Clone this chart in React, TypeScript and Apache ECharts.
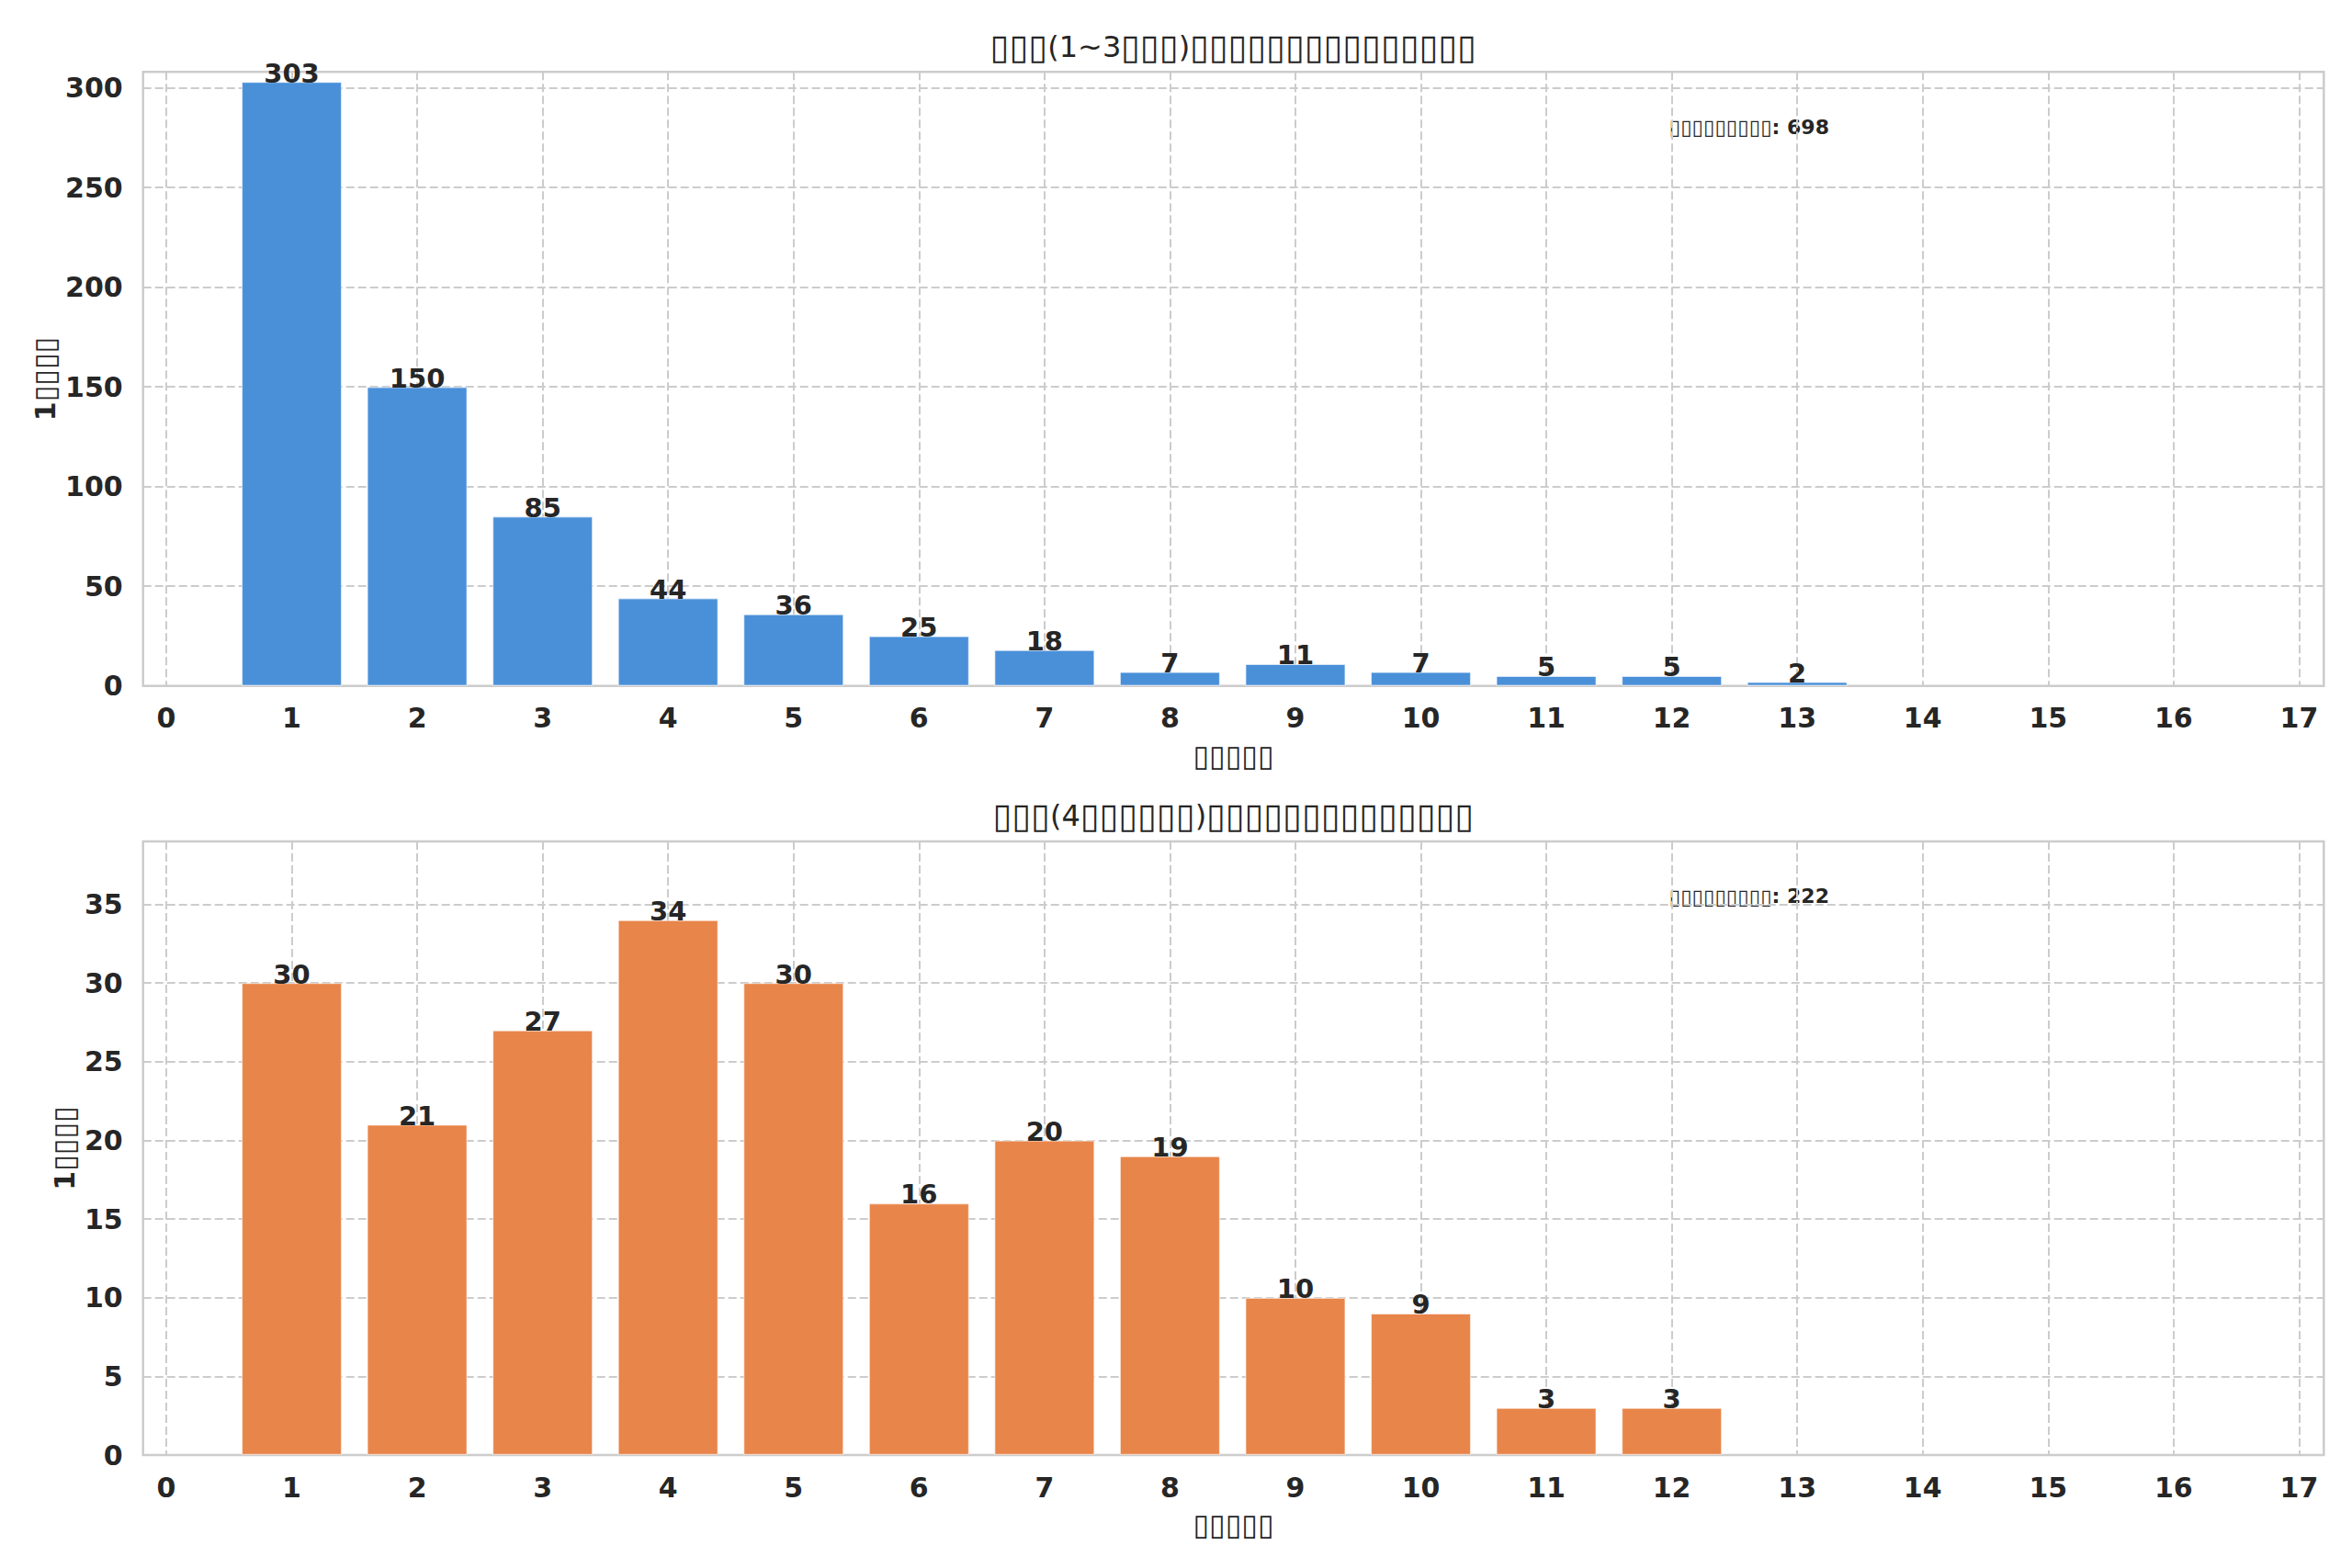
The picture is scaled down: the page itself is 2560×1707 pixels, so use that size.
import React, { useEffect, useRef } from 'react';
import * as echarts from 'echarts';

const xTicks = [0, 1, 2, 3, 4, 5, 6, 7, 8, 9, 10, 11, 12, 13, 14, 15, 16, 17];
const topCategories = [1, 2, 3, 4, 5, 6, 7, 8, 9, 10, 11, 12, 13];
const topValues = [303, 150, 85, 44, 36, 25, 18, 7, 11, 7, 5, 5, 2];
const bottomCategories = [1, 2, 3, 4, 5, 6, 7, 8, 9, 10, 11, 12];
const bottomValues = [30, 21, 27, 34, 30, 16, 20, 19, 10, 9, 3, 3];
const topYTicks = [0, 50, 100, 150, 200, 250, 300];
const bottomYTicks = [0, 5, 10, 15, 20, 25, 30, 35];
const topYMax = 308;
const bottomYMax = 39;

const topTitle = '▯▯▯(1~3▯▯▯)▯▯▯▯▯▯▯▯▯▯▯▯▯▯▯';
const bottomTitle = '▯▯▯(4▯▯▯▯▯▯)▯▯▯▯▯▯▯▯▯▯▯▯▯▯';
const xLabel = '▯▯▯▯▯';
const yLabel = '1▯▯▯▯';
const totalLabel = '▯▯▯▯▯▯▯▯▯';
const topTotal = 698;
const bottomTotal = 222;

const FONT = '"DejaVu Sans", sans-serif';
const TEXT = '#262626';
const GRIDLINE = '#cccccc';

const W = 2560;
const H = 1707;
const LEFT = 155.7;
const RIGHT_EDGE = 2529.3;
const PLOT_W = RIGHT_EDGE - LEFT;
const TOP1 = 78.3;
const BOT1 = 746.7;
const TOP2 = 916;
const BOT2 = 1584;
const CX = (LEFT + RIGHT_EDGE) / 2;

// wrap runs of box glyphs and of other characters into rich-text segments
const richify = (s: string) =>
  s.replace(/(▯+)|([^▯]+)/g, (_m, box, other) => (box ? `{b|${box}}` : `{n|${other}}`));

export default function App() {
  const ref = useRef<HTMLDivElement>(null);
  useEffect(() => {
    if (!ref.current) return;
    const chart = echarts.init(ref.current, undefined, { renderer: 'svg' });

    const mkX = (gi: number) => ({
      type: 'value',
      gridIndex: gi,
      min: -0.185,
      max: 17.197,
      axisLine: { show: false },
      axisTick: { show: false, customValues: xTicks },
      axisLabel: {
        customValues: xTicks,
        fontSize: 30,
        fontWeight: 'bold',
        color: TEXT,
        fontFamily: FONT,
        margin: 20,
      },
      splitLine: { show: true, lineStyle: { color: GRIDLINE, width: 2, type: [9, 4] } },
    });
    const mkY = (gi: number, max: number, ticks: number[]) => ({
      type: 'value',
      gridIndex: gi,
      min: 0,
      max,
      axisLine: { show: false },
      axisTick: { show: false, customValues: ticks },
      axisLabel: {
        customValues: ticks,
        fontSize: 30,
        fontWeight: 'bold',
        color: TEXT,
        fontFamily: FONT,
        margin: 22,
      },
      splitLine: { show: true, lineStyle: { color: GRIDLINE, width: 2, type: [9, 4] } },
    });
    const mkBar = (gi: number, cats: number[], vals: number[], color: string) => ({
      type: 'bar',
      xAxisIndex: gi,
      yAxisIndex: gi,
      data: cats.map((c, i) => [c, vals[i]]),
      barWidth: '80%',
      itemStyle: { color, borderColor: 'rgba(255,255,255,0.55)', borderWidth: 1.2 },
      label: {
        show: true,
        position: 'top',
        distance: -5,
        fontSize: 29,
        fontWeight: 'bold',
        color: TEXT,
        fontFamily: FONT,
        formatter: (p: any) => String(p.value[1]),
      },
    });
    const txt = (
      text: string,
      x: number,
      y: number,
      nSize: number,
      nWeight: string,
      bSize: number,
      align = 'center',
      rotation = 0,
    ) => ({
      type: 'text',
      x,
      y,
      rotation,
      style: {
        text: richify(text),
        fontFamily: FONT,
        fill: TEXT,
        align,
        verticalAlign: 'middle',
        rich: {
          n: { fontSize: nSize, fontWeight: nWeight, fontFamily: FONT, fill: TEXT, color: TEXT },
          b: { fontSize: bSize, fontWeight: 'normal', fontFamily: FONT, fill: TEXT, color: TEXT },
        },
      },
    });

    chart.setOption({
      animation: false,
      backgroundColor: '#ffffff',
      grid: [
        { left: LEFT, top: TOP1, width: PLOT_W, height: BOT1 - TOP1, show: true, borderColor: GRIDLINE, borderWidth: 2.5, backgroundColor: 'transparent' },
        { left: LEFT, top: TOP2, width: PLOT_W, height: BOT2 - TOP2, show: true, borderColor: GRIDLINE, borderWidth: 2.5, backgroundColor: 'transparent' },
      ],
      xAxis: [mkX(0), mkX(1)],
      yAxis: [mkY(0, topYMax, topYTicks), mkY(1, bottomYMax, bottomYTicks)],
      series: [
        mkBar(0, topCategories, topValues, '#4a90d9'),
        mkBar(1, bottomCategories, bottomValues, '#e8854a'),
      ],
      graphic: [
        txt(topTitle, CX, 50.5, 32, 'normal', 37.8),
        txt(bottomTitle, CX, 888, 32, 'normal', 37.8),
        txt(xLabel, CX, 822.5, 30, 'bold', 32),
        txt(xLabel, CX, 1660, 30, 'bold', 32),
        txt(yLabel, 49, (TOP1 + BOT1) / 2, 30, 'bold', 32, 'center', Math.PI / 2),
        txt(yLabel, 70, (TOP2 + BOT2) / 2, 30, 'bold', 32, 'center', Math.PI / 2),
        txt(`${totalLabel}: ${topTotal}`, 1816.7, 138, 22, 'bold', 22.6, 'left'),
        txt(`${totalLabel}: ${bottomTotal}`, 1816.7, 138 + (TOP2 - TOP1), 22, 'bold', 22.6, 'left'),
      ],
    });
    return () => chart.dispose();
  }, []);
  return <div ref={ref} style={{ position: 'absolute', left: 0, top: 0, width: W, height: H }} />;
}
